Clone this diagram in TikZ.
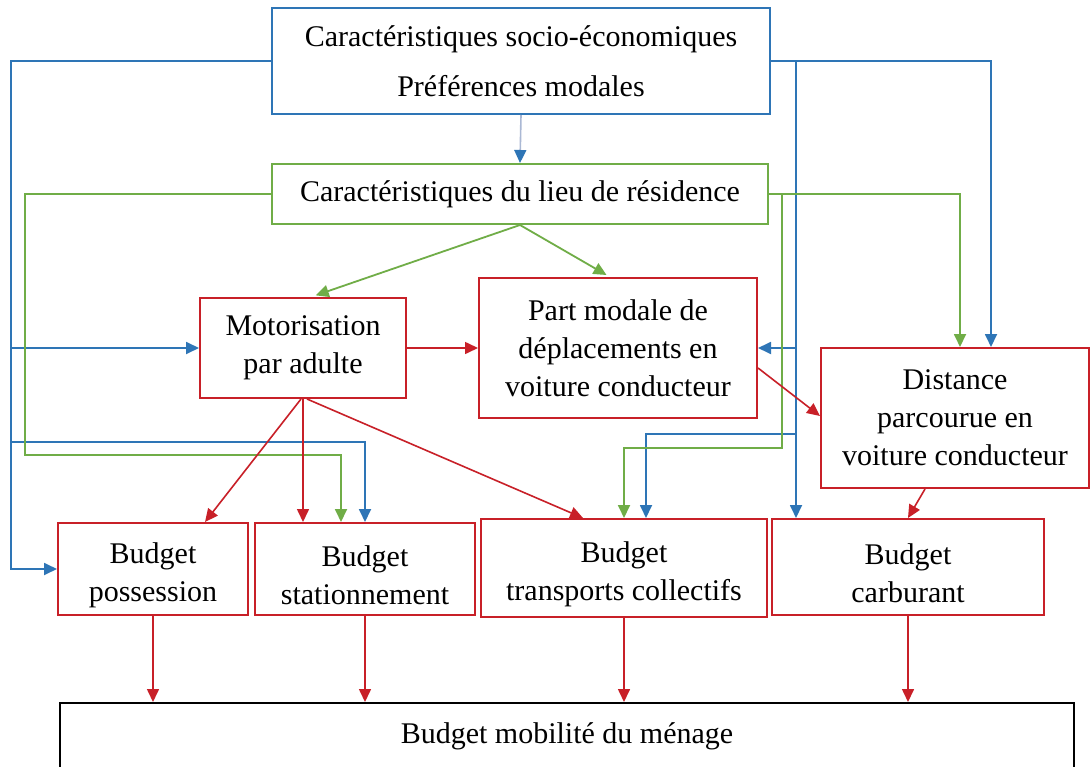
\documentclass[tikz,border=0pt]{standalone}
\usepackage{fontspec}
\setmainfont{Liberation Serif}
\usetikzlibrary{arrows.meta}
\definecolor{cblue}{RGB}{46,117,182}
\definecolor{cgreen}{RGB}{112,173,71}
\definecolor{cred}{RGB}{200,32,40}
\definecolor{cpale}{RGB}{170,184,212}
\newcommand{\lowstrut}{\rule{0pt}{33pt}}
\begin{document}
\begin{tikzpicture}[x=1pt,y=-1pt,
  box/.style={draw, line width=2pt, inner sep=0pt, align=center, font=\fontsize{30}{38}\selectfont},
  wh/.style 2 args={minimum width=#1pt, minimum height=#2pt},
  tip/.style={-{Triangle[length=13pt,width=12pt]}},
  bl/.style={draw=cblue, line width=1.8pt, tip},
  gr/.style={draw=cgreen, line width=1.8pt, tip},
  rd/.style={draw=cred, line width=1.6pt, tip}]
\clip (0,0) rectangle (1091,767);
\fill[white] (0,0) rectangle (1091,767);
% nodes
\node[box, draw=cblue, wh={498}{106}] (box1) at (521,61) {Caractéristiques socio-économiques\\[12pt]Préférences modales};
\node[box, draw=cgreen, wh={496}{60}] (box2) at (520,194) {Caractéristiques du lieu de résidence};
\node[box, draw=cred, wh={206}{100}] (mot) at (303,348) {Motorisation\\par adulte};
\node[box, draw=cred, wh={278}{140}] (part) at (618,348) {Part modale de\\déplacements en\\voiture conducteur};
\node[box, draw=cred, wh={268}{140}] (dist) at (955,418) {Distance\\parcourue en\\voiture conducteur};
\node[box, draw=cred, wh={190}{92}] (bpos) at (153,569) {\lowstrut Budget\\possession};
\node[box, draw=cred, wh={220}{92}] (bsta) at (365,569) {\lowstrut Budget\\stationnement};
\node[box, draw=cred, wh={286}{98}] (btc) at (624,568) {\lowstrut Budget\\transports collectifs};
\node[box, draw=cred, wh={272}{96}] (bcar) at (908,567) {\lowstrut Budget\\carburant};
\node[box, draw=black, wh={1014}{66}] (bmob) at (567,736) {Budget mobilité du ménage};
\coordinate (jR) at (796,61);
% blue connectors
\draw[draw=cpale, line width=1.6pt, -{Triangle[length=13pt,width=12pt,color=cblue]}] (box1.south) -- (box2.north);
\draw[bl] (box1.west) -- (11,61) |- (bpos.west);
\draw[bl] (11,348) -- (mot.west);
\draw[bl] (11,442) -| (bsta.north);
\draw[bl] (box1.east) -| ([xshift=36pt]dist.north);
\draw[bl] (jR) -- (jR |- bcar.north);
\draw[bl] (796,348) -- (part.east);
\draw[bl] (796,434) -| ([xshift=22pt]btc.north);
% green connectors
\draw[gr] (box2.west) -| (25,455) -| ([xshift=-24pt]bsta.north);
\draw[gr] (box2.east) -| ([xshift=5pt]dist.north);
\draw[gr] (782,194) |- (624,448) -- (btc.north);
\draw[gr, shorten >=5pt] (box2.south) -- ([xshift=8pt]mot.north);
\draw[gr, shorten >=4pt] (box2.south) -- ([xshift=-8pt]part.north);
% red connectors
\draw[rd] (mot.east) -- (part.west);
\draw[rd] ([xshift=-2pt]mot.south) -- ([xshift=52pt]bpos.north);
\draw[rd] (mot.south) -- ([xshift=-62pt]bsta.north);
\draw[rd] ([xshift=4pt]mot.south) -- ([xshift=-41pt]btc.north);
\draw[rd] ([yshift=-20pt]part.east) -- ([yshift=2pt]dist.west);
\draw[rd] ([xshift=-30pt]dist.south) -- (bcar.north);
\draw[rd] (bpos.south) -- (bpos.south |- bmob.north);
\draw[rd] (bsta.south) -- (bsta.south |- bmob.north);
\draw[rd] (btc.south) -- (btc.south |- bmob.north);
\draw[rd] (bcar.south) -- (bcar.south |- bmob.north);
\end{tikzpicture}
\end{document}
